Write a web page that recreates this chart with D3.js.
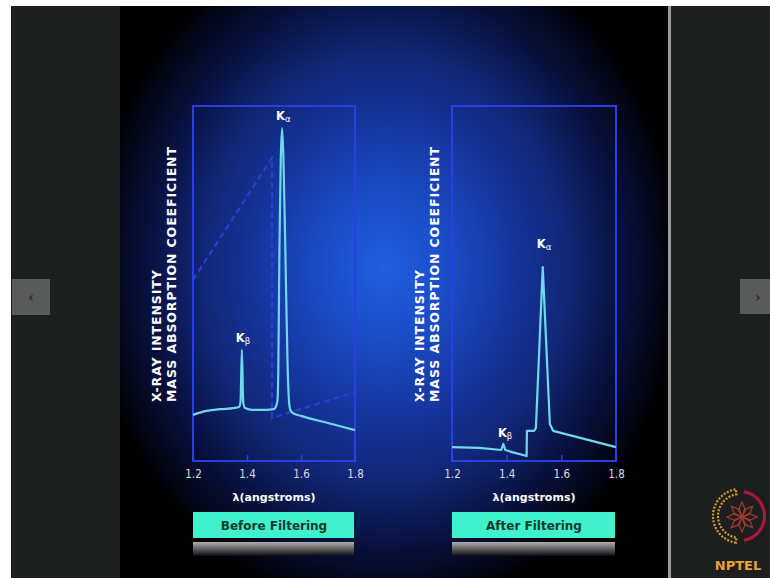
<!DOCTYPE html>
<html>
<head>
<meta charset="utf-8">
<script src="https://cdn.jsdelivr.net/npm/d3@7"></script>
<style>
  html, body { margin: 0; padding: 0; background: #ffffff; }
  svg { display: block; }
</style>
</head>
<body>
<svg id="chart" width="770" height="578"></svg>
<script>
// ---------- data ----------
const lambdaTicks = [1.2, 1.4, 1.6, 1.8];

// Before filtering: X-ray intensity (relative units, 0-100)
const beforeLambda    = [1.20, 1.25, 1.30, 1.35, 1.370, 1.376, 1.381, 1.386, 1.393, 1.42, 1.47, 1.500, 1.508, 1.513, 1.516, 1.520, 1.525, 1.530, 1.535, 1.542, 1.550, 1.555, 1.560, 1.570, 1.60, 1.70, 1.80];
const beforeIntensity = [13.0, 14.1, 14.6, 14.9, 15.2, 16.6, 31.3, 16.6, 14.9, 14.4, 14.4, 14.6, 15.5, 17.2, 25.6, 59.4, 84.8, 93.8, 84.8, 59.4, 28.0, 17.5, 14.5, 13.5, 12.7, 10.7, 8.7];

// Before filtering: mass absorption coefficient of the filter (dashed)
const absLambda = [1.2, 1.493, 1.493, 1.8];
const absCoef   = [51.0, 85.4, 12.1, 19.4];

// After filtering: X-ray intensity
const afterLambda    = [1.20, 1.30, 1.38, 1.388, 1.395, 1.42, 1.473, 1.474, 1.500, 1.507, 1.532, 1.558, 1.570, 1.80];
const afterIntensity = [3.9, 3.7, 3.1, 4.8, 3.1, 2.5, 1.4, 8.5, 8.5, 9.3, 54.6, 10.4, 8.5, 3.9];

// peak labels
const beforePeaks = [{name: "K", sub: "\u03b2", x: 1.381, y: 31.3}, {name: "K", sub: "\u03b1", x: 1.530, y: 93.8}];
const afterPeaks  = [{name: "K", sub: "\u03b2", x: 1.390, y: 4.8},  {name: "K", sub: "\u03b1", x: 1.532, y: 54.6}];

const yTitle1 = "X-RAY INTENSITY";
const yTitle2 = "MASS ABSORPTION COEEFICIENT";
const xTitle = "\u03bb(angstroms)";
const panelCaptions = ["Before Filtering", "After Filtering"];

// ---------- page frame ----------
const svg = d3.select("#chart");
const defs = svg.append("defs");

const bg = defs.append("radialGradient").attr("id", "bg")
  .attr("gradientUnits", "userSpaceOnUse")
  .attr("cx", 385).attr("cy", 268).attr("r", 330)
  .attr("gradientTransform", "translate(385,268) scale(0.9,1.05) translate(-385,-268)");
[[0, "#2160e0"], [0.18, "#1b4fcb"], [0.42, "#1637a0"], [0.62, "#112675"], [0.82, "#070f38"], [1, "#000000"]]
  .forEach(([o, c]) => bg.append("stop").attr("offset", o).attr("stop-color", c));

const refl = defs.append("linearGradient").attr("id", "refl").attr("x1", 0).attr("y1", 0).attr("x2", 0).attr("y2", 1);
refl.append("stop").attr("offset", 0).attr("stop-color", "#b0b0b0");
refl.append("stop").attr("offset", 0.45).attr("stop-color", "#666666");
refl.append("stop").attr("offset", 1).attr("stop-color", "#0a0a14");

svg.append("rect").attr("x", 11).attr("y", 6).attr("width", 109).attr("height", 572).attr("fill", "#1d1e1e");
svg.append("rect").attr("x", 120).attr("y", 6).attr("width", 548).attr("height", 572).attr("fill", "#000");
svg.append("rect").attr("x", 120).attr("y", 6).attr("width", 548).attr("height", 572).attr("fill", "url(#bg)");
svg.append("rect").attr("x", 668).attr("y", 6).attr("width", 3).attr("height", 572).attr("fill", "#9a9a9a");
svg.append("rect").attr("x", 671).attr("y", 6).attr("width", 99).attr("height", 572).attr("fill", "#1d1e1e");

// nav buttons
svg.append("rect").attr("x", 12).attr("y", 279).attr("width", 38).attr("height", 36).attr("fill", "#595a5a");
svg.append("text").attr("x", 31).attr("y", 302).attr("text-anchor", "middle")
  .attr("font-family", "DejaVu Sans").attr("font-size", 14).attr("font-weight", "bold").attr("fill", "#2a2a2a").text("\u2039");
svg.append("rect").attr("x", 740).attr("y", 279).attr("width", 30).attr("height", 35).attr("fill", "#595a5a");
svg.append("text").attr("x", 758).attr("y", 302).attr("text-anchor", "middle")
  .attr("font-family", "DejaVu Sans").attr("font-size", 14).attr("font-weight", "bold").attr("fill", "#2a2a2a").text("\u203a");

// NPTEL logo
const logo = svg.append("g").attr("transform", "translate(740,516)");
logo.append("path")
  .attr("d", d3.arc()({innerRadius: 22, outerRadius: 27, startAngle: Math.PI * 1.05, endAngle: Math.PI * 1.95}))
  .attr("fill", "none").attr("stroke", "#d49a2a").attr("stroke-width", 2.2).attr("stroke-dasharray", "2,1.5");
logo.append("path")
  .attr("d", d3.arc()({innerRadius: 23, outerRadius: 26, startAngle: Math.PI * 0.05, endAngle: Math.PI * 0.95}))
  .attr("fill", "#b0153a");
for (let i = 0; i < 8; i++) {
  logo.append("path")
    .attr("d", "M0,0 L-3.5,-7 L0,-15 L3.5,-7 Z")
    .attr("transform", `translate(2,1) rotate(${i * 45})`)
    .attr("fill", "none").attr("stroke", "#a03a30").attr("stroke-width", 1.2);
}
svg.append("text").attr("x", 738).attr("y", 570).attr("text-anchor", "middle")
  .attr("font-family", "DejaVu Sans").attr("font-weight", "bold").attr("font-size", 13)
  .attr("fill", "#e6a23a").text("NPTEL");

// ---------- panels ----------
const panels = [
  {x0: 193, x1: 355, top: 106, bottom: 461, titleX: 161, lambda: beforeLambda, inten: beforeIntensity, curve: d3.curveMonotoneX, abs: true, peaks: beforePeaks, gaps: [8, 8], caption: panelCaptions[0]},
  {x0: 452, x1: 616, top: 106, bottom: 461, titleX: 424, lambda: afterLambda, inten: afterIntensity, curve: d3.curveLinear, abs: false, peaks: afterPeaks, gaps: [7, 19], caption: panelCaptions[1]}
];

panels.forEach(p => {
  const x = d3.scaleLinear().domain([1.2, 1.8]).range([p.x0, p.x1]);
  const y = d3.scaleLinear().domain([0, 100]).range([p.bottom, p.top]);
  const g = svg.append("g");

  // axis ticks (inward) + labels
  const ax = g.append("g").attr("transform", `translate(0,${p.bottom})`)
    .call(d3.axisBottom(x).tickValues(lambdaTicks).tickFormat(d3.format(".1f")).tickSize(-6).tickPadding(9));
  ax.select(".domain").remove();
  ax.selectAll(".tick line").attr("stroke", "#2a3ee6").attr("stroke-width", 1.5);
  ax.selectAll(".tick text").attr("fill", "#d8dce8").attr("font-family", "DejaVu Sans Condensed, DejaVu Sans").attr("font-size", 11.5);

  // frame
  g.append("rect").attr("x", p.x0).attr("y", p.top).attr("width", p.x1 - p.x0).attr("height", p.bottom - p.top)
    .attr("fill", "none").attr("stroke", "#2a3ee6").attr("stroke-width", 2);

  // absorption coefficient (dashed)
  if (p.abs) {
    const absLine = d3.line().x((d, i) => x(absLambda[i])).y((d, i) => y(absCoef[i]));
    g.append("path").attr("d", absLine(absLambda))
      .attr("fill", "none").attr("stroke", "#2a40d8").attr("stroke-width", 2).attr("stroke-dasharray", "6,4");
  }

  // intensity curve
  const line = d3.line().curve(p.curve).x((d, i) => x(p.lambda[i])).y((d, i) => y(p.inten[i]));
  g.append("path").attr("d", line(p.lambda))
    .attr("fill", "none").attr("stroke", "#6fd8ea").attr("stroke-width", 2.2).attr("stroke-linejoin", "round");

  // peak labels
  p.peaks.forEach((pk, k) => {
    const t = g.append("text").attr("x", x(pk.x) - 6).attr("y", y(pk.y) - p.gaps[k])
      .attr("font-family", "DejaVu Sans").attr("font-weight", "bold").attr("font-size", 11.5).attr("fill", "#ffffff");
    t.append("tspan").text(pk.name);
    t.append("tspan").attr("font-size", 8.5).attr("dy", 2).attr("font-weight", "normal").text(pk.sub);
  });

  // y titles (rotated)
  [yTitle1, yTitle2].forEach((s, i) => {
    g.append("text")
      .attr("transform", `translate(${p.titleX + i * 15},402) rotate(-90)`)
      .attr("text-anchor", "start")
      .attr("font-family", "DejaVu Sans").attr("font-weight", "bold").attr("font-size", 12.5)
      .attr("letter-spacing", 0.9).attr("fill", "#ffffff").text(s);
  });

  // x title
  g.append("text").attr("x", (p.x0 + p.x1) / 2).attr("y", 501).attr("text-anchor", "middle")
    .attr("font-family", "DejaVu Sans").attr("font-weight", "bold").attr("font-size", 11)
    .attr("fill", "#ffffff").text(xTitle);

  // caption button + reflection
  g.append("rect").attr("x", p.x0).attr("y", 512).attr("width", p.x1 - p.x0 - 1).attr("height", 26).attr("fill", "#3ff2cb");
  g.append("text").attr("x", (p.x0 + p.x1) / 2).attr("y", 530).attr("text-anchor", "middle")
    .attr("font-family", "DejaVu Sans").attr("font-weight", "bold").attr("font-size", 12)
    .attr("fill", "#173a2a").text(p.caption);
  g.append("rect").attr("x", p.x0).attr("y", 542).attr("width", p.x1 - p.x0 - 1).attr("height", 14).attr("fill", "url(#refl)");
});
</script>
</body>
</html>
